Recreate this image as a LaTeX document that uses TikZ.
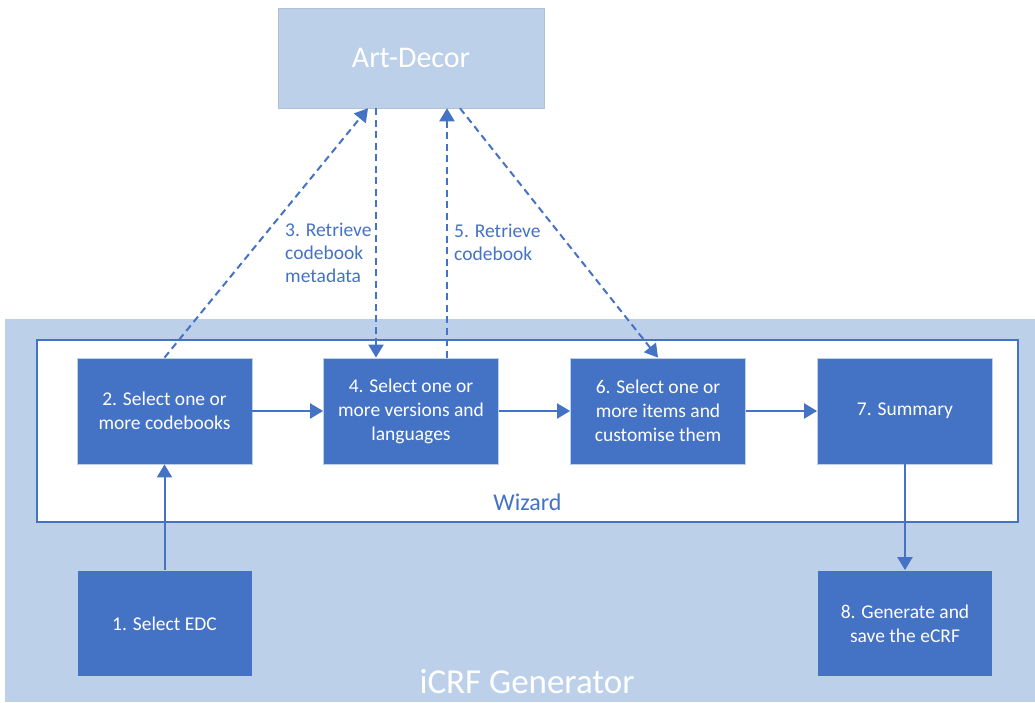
\documentclass[tikz,border=0pt]{standalone}
\usepackage{fontspec}
\setmainfont{Carlito}
\usetikzlibrary{arrows.meta,calc}
\definecolor{dblue}{HTML}{4472C4}
\definecolor{lblue}{HTML}{BDD0E9}
\begin{document}
\begin{tikzpicture}[x=1pt,y=-1pt,
  stepbox/.style={rectangle,fill=dblue,draw=lblue,line width=0.8pt,minimum width=175pt,minimum height=106pt,text=white,align=center,font=\fontsize{19.5}{24}\selectfont,inner sep=2pt},
  flow/.style={draw=dblue,line width=2pt,-{Triangle[length=13pt,width=15pt]}},
  dflow/.style={flow,dash pattern=on 7pt off 4.5pt},
  lbl/.style={text=dblue,align=left,font=\fontsize{19.5}{23}\selectfont,anchor=north west,inner sep=0pt}]
\useasboundingbox (0,0) rectangle (1035,702);
\node[rectangle,fill=lblue,minimum width=1030pt,minimum height=383pt,inner sep=0pt] (gen) at (520,510.5) {};
\node[text=white,font=\fontsize{35}{40}\selectfont] (genlbl) at (527,682) {iCRF Generator};
\node[rectangle,fill=white,draw=dblue,line width=1.5pt,minimum width=981pt,minimum height=182pt,inner sep=0pt] (wiz) at (527.5,431) {};
\node[text=dblue,font=\fontsize{24}{28}\selectfont] (wizlbl) at (527.5,502) {Wizard};
\node[rectangle,fill=lblue,draw=lblue!80!gray,line width=0.5pt,minimum width=266pt,minimum height=100pt,text=white,font=\fontsize{30}{34}\selectfont] (art) at (411,58) {Art-Decor};
\node[stepbox] (b2) at (164.5,411) {2. Select one or\\more codebooks};
\node[stepbox] (b4) at (411,411) {4. Select one or\\more versions and\\languages};
\node[stepbox] (b6) at (658,411) {6. Select one or\\more items and\\customise them};
\node[stepbox] (b7) at (905,411) {7. Summary};
\node[stepbox] (b1) at (164.5,623.5) {1. Select EDC};
\node[stepbox] (b8) at (905,623.5) {8. Generate and\\save the eCRF};
\draw[flow] (b1) -- (b2);
\draw[flow] (b2) -- (b4);
\draw[flow] (b4) -- (b6);
\draw[flow] (b6) -- (b7);
\draw[flow] (b7) -- (b8);
\coordinate (a1) at ($(art.south)+(-43,0)$);
\coordinate (a2) at ($(art.south)+(-35,0)$);
\coordinate (a3) at ($(art.south)+(36,0)$);
\coordinate (a4) at ($(art.south)+(49,0)$);
\coordinate (n4a) at ($(b4.north)+(-35,0)$);
\coordinate (n4b) at ($(b4.north)+(36,0)$);
\draw[dflow] (b2.north) -- (a1);
\draw[dflow] (a2) -- (n4a);
\draw[dflow] (n4b) -- (a3);
\draw[dflow] (a4) -- (b6.north);
\node[lbl] (l3) at (285,223) {3. Retrieve\\codebook\\metadata};
\node[lbl] (l5) at (454,224) {5. Retrieve\\codebook};
\end{tikzpicture}
\end{document}
